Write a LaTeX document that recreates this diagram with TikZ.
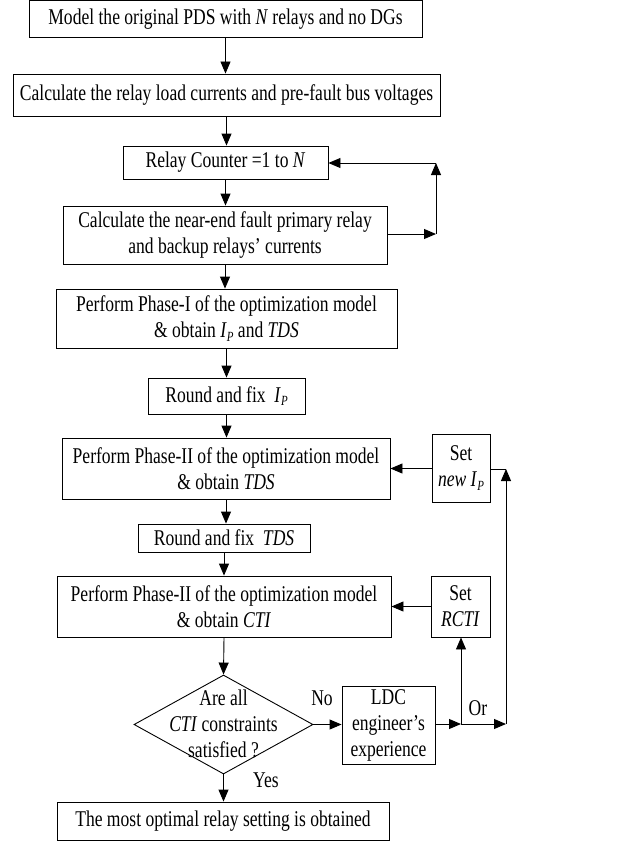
\documentclass[tikz,border=0pt]{standalone}
\usepackage{fontspec}
\setmainfont{Liberation Serif}[FakeStretch=0.78]
\usetikzlibrary{arrows.meta,shapes.geometric}
\newcommand{\IPsub}{\textit{I}\raisebox{-0.35ex}{\fontsize{14}{14}\selectfont\textit{P}}}
\begin{document}
\begin{tikzpicture}[x=1pt,y=-1pt,
  every node/.style={font=\fontsize{22.5}{26}\selectfont, inner sep=0pt},
  box/.style={draw, line width=0.9pt, align=center},
  arr/.style={line width=0.9pt, -{Triangle[length=12pt,width=10pt]}},
  ln/.style={line width=0.9pt}]
\useasboundingbox (0,0) rectangle (638,843);
\node[box, minimum width=393, minimum height=37] (b1) at (225.5,19) {Model the original PDS with \textit{N} relays and no DGs};
\node[box, minimum width=427, minimum height=42] (b2) at (226.5,95) {Calculate the relay load currents and pre-fault bus voltages};
\node[box, minimum width=205, minimum height=33] (b3) at (225.5,162.5) {Relay Counter =1 to \textit{N}};
\node[box, minimum width=324, minimum height=58] (b4) at (225,235) {Calculate the near-end fault primary relay\\and backup relays' currents};
\node[box, minimum width=341, minimum height=59] (b5) at (226.5,318.5) {Perform Phase-I of the optimization model\\\& obtain \IPsub{} and \textit{TDS}};
\node[box, minimum width=157, minimum height=36] (b6) at (226.5,396) {Round and fix \ \IPsub};
\node[box, minimum width=328, minimum height=61] (b7) at (226,468.5) {Perform Phase-II of the optimization model\\\& obtain \textit{TDS}};
\node[box, minimum width=58, minimum height=68] (sip) at (461,468) {Set\\\textit{new} \IPsub};
\node[box, minimum width=172, minimum height=28] (b8) at (224,538) {Round and fix \ \textit{TDS}};
\node[box, minimum width=334, minimum height=61] (b9) at (224,606.5) {Perform Phase-II of the optimization model\\\& obtain \textit{CTI}};
\node[box, minimum width=59, minimum height=61] (sr) at (460.5,606.5) {Set\\\textit{RCTI}};
\node[draw, line width=0.9pt, diamond, aspect=1.8, minimum width=179, minimum height=99] (d) at (223.5,724.5) {};
\node[align=center] (dt) at (223.5,724) {Are all\\\textit{CTI} constraints\\satisfied ?};
\node[box, minimum width=93, minimum height=78] (ldc) at (388.5,725) {LDC\\engineer's\\experience};
\node[box, minimum width=332, minimum height=38] (fin) at (223,821) {The most optimal relay setting is obtained};
\node (no) at (322,698) {No};
\node (yes) at (266,780) {Yes};
\node (or) at (478,708) {Or};
\coordinate (la) at (436,234);
\coordinate (lb) at (436,163);
\coordinate (j) at (461,724);
\coordinate (ra) at (506,724);
\coordinate (rb) at (506,469);
% main flow
\draw[arr] (b1.south) -- (b1.south |- b2.north);
\draw[arr] (b2.south) -- (b2.south |- b3.north);
\draw[arr] (b3.south) -- (b3.south |- b4.north);
\draw[arr] (b4.south) -- (b4.south |- b5.north);
\draw[arr] (b5.south) -- (b5.south |- b6.north);
\draw[arr] (b6.south) -- (b6.south |- b7.north);
\draw[arr] (b7.south) -- (b7.south |- b8.north);
\draw[arr] (b8.south) -- (b8.south |- b9.north);
\draw[arr] (b9.south) -- (d.north);
\draw[arr] (d.south) -- (d.south |- fin.north);
% loop
\draw[arr] (b4.east |- la) -- (la);
\draw[arr] (la) -- (lb);
\draw[arr] (lb) -- (b3.east |- lb);
% feedback
\draw[arr] (d.east) -- (ldc.west |- d.east);
\draw[arr] (ldc.east |- j) -- (j);
\draw[arr] (j) -- (sr.south -| j);
\draw[arr] (j) -- (ra);
\draw[arr] (ra) -- (rb);
\draw[ln] (rb) -- (sip.east |- rb);
\draw[arr] (sip.west |- b7.east) -- (b7.east);
\draw[arr] (sr.west |- b9.east) -- (b9.east);
\end{tikzpicture}
\end{document}
